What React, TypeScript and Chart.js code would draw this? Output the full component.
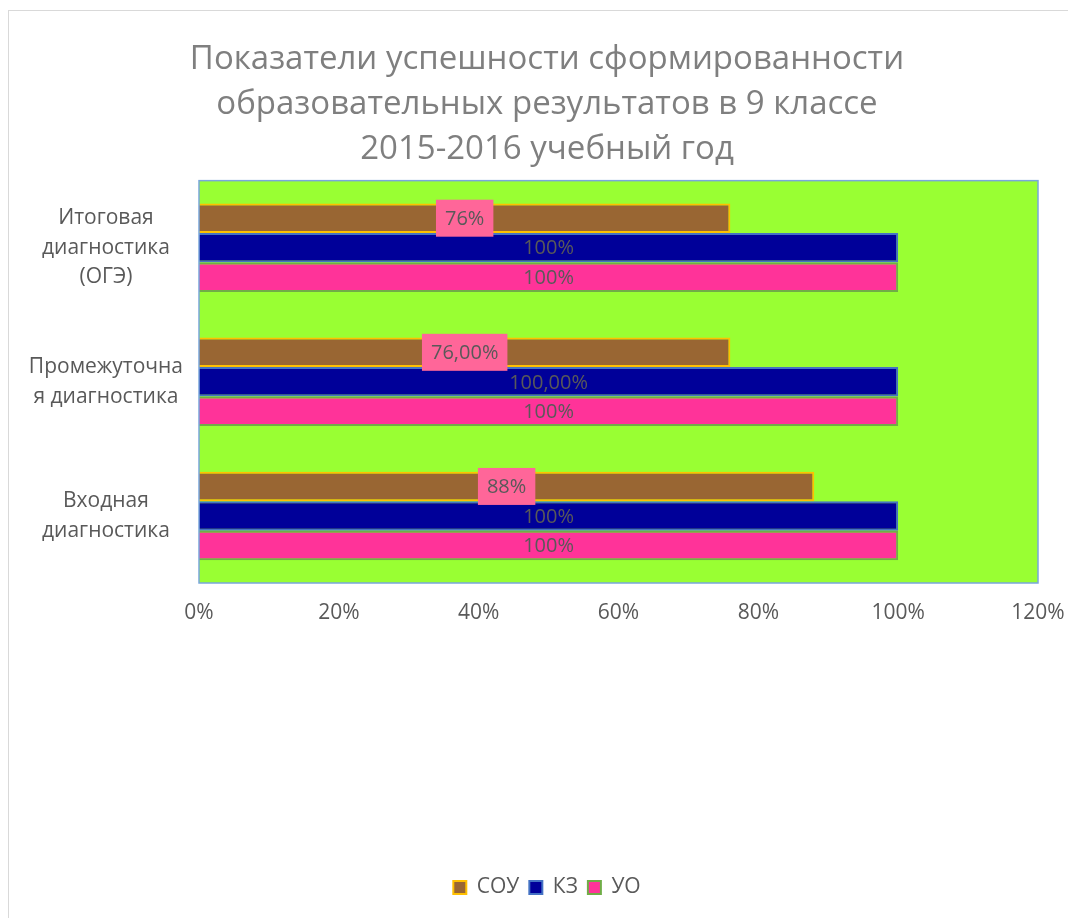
import React, { useEffect, useRef } from "react";
import { Chart, registerables } from "chart.js";

Chart.register(...registerables);

const categories = [
  ["Итоговая", "диагностика", "(ОГЭ)"],
  ["Промежуточна", "я диагностика"],
  ["Входная", "диагностика"],
];
const seriesNames = ["СОУ", "КЗ", "УО"];
const souValues = [0.76, 0.76, 0.88];
const kzValues = [1, 1, 1];
const uoValues = [1, 1, 1];
const souLabels = ["76%", "76,00%", "88%"];
const kzLabels = ["100%", "100,00%", "100%"];
const uoLabels = ["100%", "100%", "100%"];
const titleLines = [
  "Показатели успешности сформированности",
  "образовательных результатов в 9 классе",
  "2015-2016 учебный год",
];
const xMin = 0;
const xMax = 1.2;
const xStep = 0.2;

const FONT = "'Open Sans', sans-serif";
const TEXT = "#595959";

const plotBgPlugin = {
  id: "plotBg",
  beforeDraw(chart: any) {
    const { ctx, chartArea: a } = chart;
    ctx.save();
    ctx.fillStyle = "#99ff33";
    ctx.fillRect(a.left, a.top, a.right - a.left, a.bottom - a.top);
    ctx.restore();
  },
  afterDraw(chart: any) {
    const { ctx, chartArea: a } = chart;
    ctx.save();
    ctx.strokeStyle = "#7aa6dc";
    ctx.lineWidth = 1.5;
    ctx.strokeRect(a.left, a.top, a.right - a.left, a.bottom - a.top);
    ctx.restore();
  },
};

const labelSets = [souLabels, kzLabels, uoLabels];

const dataLabelPlugin = {
  id: "dataLabels",
  afterDatasetsDraw(chart: any) {
    const { ctx } = chart;
    ctx.save();
    ctx.font = `20px ${FONT}`;
    ctx.textAlign = "center";
    ctx.textBaseline = "middle";
    chart.data.datasets.forEach((ds: any, di: number) => {
      const meta = chart.getDatasetMeta(di);
      meta.data.forEach((el: any, i: number) => {
        const text = labelSets[di][i];
        const cx = (el.x + el.base) / 2;
        const cy = el.y;
        if (di === 0) {
          const w = ctx.measureText(text).width + 18;
          const h = 37;
          ctx.fillStyle = "#ff6699";
          ctx.fillRect(cx - w / 2, cy - h / 2, w, h);
        }
        ctx.fillStyle = TEXT;
        ctx.fillText(text, cx, cy + 1);
      });
    });
    ctx.restore();
  },
};

export default function App() {
  const ref = useRef<HTMLCanvasElement>(null);
  useEffect(() => {
    if (!ref.current) return;
    const chart = new Chart(ref.current, {
      type: "bar",
      data: {
        labels: categories,
        datasets: [
          {
            label: seriesNames[0],
            data: souValues,
            backgroundColor: "#996633",
            borderColor: "#ffc000",
            borderWidth: 2,
          },
          {
            label: seriesNames[1],
            data: kzValues,
            backgroundColor: "#000099",
            borderColor: "#4472c4",
            borderWidth: 2,
          },
          {
            label: seriesNames[2],
            data: uoValues,
            backgroundColor: "#ff3399",
            borderColor: "#70ad47",
            borderWidth: 2,
          },
        ],
      },
      options: {
        indexAxis: "y",
        responsive: false,
        animation: false,
        devicePixelRatio: 1,
        layout: { padding: { left: 0, right: 0, top: 0, bottom: 10 } },
        datasets: { bar: { categoryPercentage: 0.66, barPercentage: 1 } },
        scales: {
          x: {
            min: xMin,
            max: xMax,
            grid: { display: false, drawTicks: false },
            border: { display: false },
            ticks: {
              stepSize: xStep,
              padding: 17,
              color: TEXT,
              font: { family: FONT, size: 21 },
              callback: (v: any) => Math.round(Number(v) * 100) + "%",
            },
            afterFit(scale: any) {
              scale.height = 284;
            },
          },
          y: {
            grid: { display: false, drawTicks: false },
            border: { display: false },
            ticks: {
              crossAlign: "center",
              padding: 16,
              color: TEXT,
              font: { family: FONT, size: 21, lineHeight: 1.4 },
            },
            afterFit(scale: any) {
              scale.width = 190;
            },
          },
          yRight: {
            type: "category",
            position: "right",
            display: true,
            grid: { display: false, drawTicks: false },
            border: { display: false },
            ticks: { display: false },
            afterFit(scale: any) {
              scale.width = 47;
            },
          },
        },
        plugins: {
          title: {
            display: true,
            text: titleLines,
            color: "#7f7f7f",
            font: { family: FONT, size: 33, weight: "normal", lineHeight: 1.36 },
            padding: { top: 26, bottom: 9 },
          },
          legend: {
            position: "bottom",
            labels: {
              color: TEXT,
              font: { family: FONT, size: 21 },
              boxWidth: 13,
              boxHeight: 13,
              padding: 10,
            },
          },
          tooltip: { enabled: false },
        },
      },
      plugins: [plotBgPlugin, dataLabelPlugin],
    } as any);
    return () => chart.destroy();
  }, []);
  return (
    <div style={{ paddingTop: 2 }}>
      <div
        style={{
          borderTop: "1px solid #d9d9d9",
          borderLeft: "1px solid #d9d9d9",
          width: 1059,
          height: 907,
          overflow: "hidden",
        }}
      >
        <canvas ref={ref} width={1076} height={907} style={{ display: "block" }} />
      </div>
    </div>
  );
}
